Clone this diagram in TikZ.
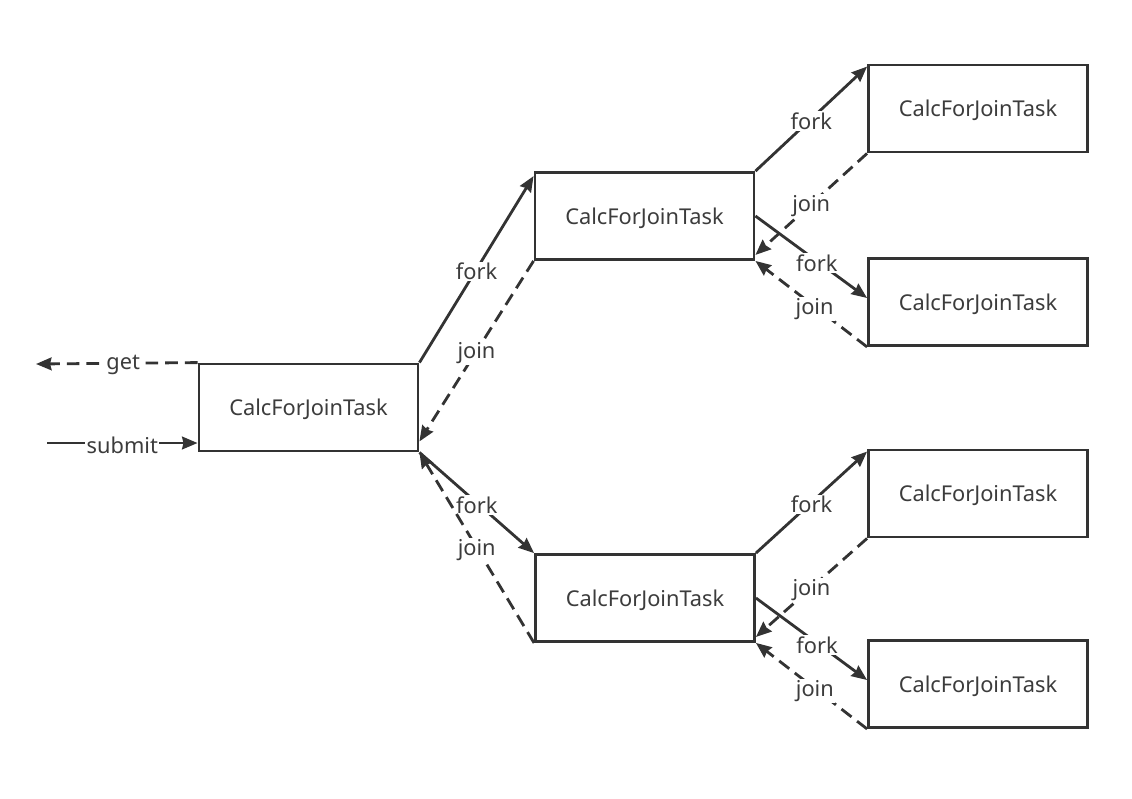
\documentclass[tikz,border=0pt]{standalone}
\usepackage{fontspec}
\setmainfont{Noto Sans}
\usetikzlibrary{arrows.meta,calc}
\definecolor{linegray}{HTML}{333333}
\definecolor{textgray}{HTML}{3C3C3C}

\begin{document}
\begin{tikzpicture}[x=0.025cm,y=-0.025cm,
    font=\fontsize{15.5}{18}\selectfont,text=textgray,
    >={Stealth[length=11pt,width=9pt,inset=1pt]},
    task/.style={draw=linegray,line width=2pt,minimum width=5.475cm,minimum height=2.175cm,inner sep=0pt,text depth=0pt},
    wire/.style={draw=linegray,line width=2pt,->},
    back/.style={wire,dash pattern=on 9pt off 5pt},
    lbl/.style={fill=white,inner sep=1pt,yshift=-1.5pt}]
  \useasboundingbox (0,0) rectangle (1132,798);

  % the tasks
  \path (308.5,407.5) node[task] (root) {CalcForJoinTask}
        (644.5,216) node[task] (up) {CalcForJoinTask}
        (645,598) node[task] (down) {CalcForJoinTask};
  \path (978,108.5) node[task] (upA) {CalcForJoinTask}
        (978,302) node[task] (upB) {CalcForJoinTask}
        (978,493.5) node[task] (downA) {CalcForJoinTask}
        (978,684) node[task] (downB) {CalcForJoinTask};

  % caller
  \coordinate (getend) at (36,364);
  \coordinate (subbeg) at (47,443);
  \draw[back] (root.north west) -- node[lbl,pos=.46] {get} (getend);
  \draw[wire] (subbeg) -- node[lbl] {submit} (subbeg -| root.west);

  % first split
  \draw[wire] (root.north east) -- node[lbl] {fork} ($(up.north west)+(0,5)$);
  \draw[back] (up.south west) -- node[lbl] {join} ($(root.south east)+(0,-11)$);
  \draw[wire] (root.south east) -- node[lbl] {fork} (down.north west);
  \draw[back] (down.south west) -- node[lbl] {join} (root.south east);

  % second split
  \foreach \m/\a/\b in {up/upA/upB,down/downA/downB} {
    \draw[wire] (\m.north east) -- node[lbl] {fork} ($(\a.north west)+(0,3)$);
    \draw[back] (\a.south west) -- node[lbl] {join} ($(\m.south east)+(0,-6)$);
    \draw[wire] (\m.east) -- node[lbl,pos=.55] {fork} ($(\b.west)+(0,-4)$);
    \draw[back] (\b.south west) -- node[lbl,pos=.47] {join} (\m.south east);
  }
\end{tikzpicture}
\end{document}
